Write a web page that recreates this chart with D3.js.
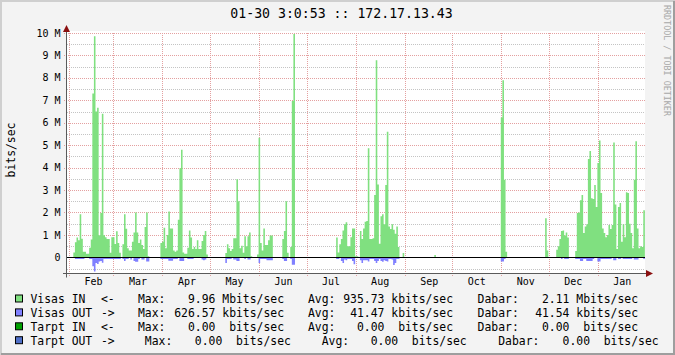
<!DOCTYPE html>
<html>
<head>
<meta charset="utf-8">
<script src="https://cdn.jsdelivr.net/npm/d3@7"></script>
<style>
  body { margin: 0; background: #f3f3f3; }
  svg { display: block; font-family: "DejaVu Sans Mono", monospace; }
  text { white-space: pre; }
</style>
</head>
<body>
<svg id="chart"></svg>
<script>

const title = "01-30 3:0:53 :: 172.17.13.43";
const unitLabel = "bits/sec";
const watermark = "RRDTOOL / TOBI OETIKER";

const startTime = new Date(2006, 0, 30, 17);
const endTime = new Date(2007, 0, 30, 19);

const yTicks = [0, 1, 2, 3, 4, 5, 6, 7, 8, 9, 10];

// one value per day, Mbit/s
const inMbits = [
    0, 0, 0, 0, 0.22, 0.67, 0.88, 0.76, 1.92, 0.83,
    0.25, 0.25, 0.16, 0.16, 0.43, 0.79, 7.3, 9.85, 6.5, 6.67,
    0.98, 1.98, 6.4, 0.98, 0.9, 0.82, 0.82, 0.2, 0.9, 0.9,
    0.6, 1.16, 0.64, 0.2, 0, 0.58, 1.92, 1.28, 0.4, 0.31,
    0.31, 0.7, 1.11, 2.0, 1.11, 0.64, 0.79, 0.55, 0.37, 1.35,
    2.0, 0.05, 0, 0, 0, 0, 0, 0, 0, 0.64,
    0.7, 1.32, 0.4, 1.0, 2.04, 1.29, 1.29, 0.31, 0.25, 0.31,
    1.68, 3.97, 4.8, 0.22, 0.16, 0.16, 0.43, 1.2, 0.88, 0.37,
    0.46, 0.37, 0.76, 0.37, 0.37, 0.73, 1.0, 1.17, 0.13, 0,
    0, 0, 0, 0, 0, 0, 0, 0, 0, 0,
    0.19, 0.58, 0.4, 0.28, 0.37, 0.85, 0.85, 3.48, 2.5, 0.4,
    0.52, 0.2, 0.94, 0.49, 0.94, 1.11, 0.05, 0, 0, 0,
    0.13, 5.33, 0.64, 0.31, 1.29, 0.55, 0.55, 0.76, 0.97, 0.97,
    0, 0, 0, 0, 0, 0, 0.82, 1.17, 2.5, 0.2,
    0, 0.46, 6.97, 9.96, 0, 0, 0, 0, 0, 0,
    0, 0, 0, 0, 0, 0, 0, 0, 0, 0,
    0, 0, 0, 0, 0, 0, 0, 0, 0, 0,
    0.88, 0.22, 0.58, 0.82, 1.2, 1.47, 1.56, 0.49, 0.49, 0.9,
    1.29, 1.29, 0.05, 0.05, 0, 1.17, 0.82, 1.29, 1.59, 1.62,
    4.86, 0.82, 0.82, 0.85, 2.78, 8.78, 3.25, 0.61, 1.83, 1.92,
    1.47, 3.22, 5.6, 1.38, 1.26, 1.47, 1.23, 1.05, 1.38, 0.46,
    0, 0, 0.19, 0, 0, 0, 0, 0, 0, 0,
    0, 0, 0, 0, 0, 0, 0, 0, 0, 0,
    0, 0, 0.1, 0, 0, 0, 0, 0, 0, 0,
    0, 0, 0, 0, 0, 0, 0, 0, 0, 0,
    0, 0, 0, 0, 0, 0, 0, 0, 0, 0,
    0, 0, 0, 0, 0, 0, 0, 0, 0, 0,
    0, 0, 0, 0, 6.23, 7.89, 3.46, 0.25, 0, 0,
    0, 0, 0, 0, 0, 0, 0, 0, 0, 0,
    0, 0, 0, 0, 0, 0, 0, 0, 0, 0,
    0, 0, 1.74, 0.31, 0, 0, 0, 0, 0, 0.34,
    0.49, 0.82, 1.17, 1.2, 0.97, 1.11, 0.88, 0, 0, 0,
    0, 0.28, 1.98, 2.0, 2.54, 2.78, 1.08, 1.38, 1.47, 4.38,
    4.74, 2.63, 2.6, 3.22, 2.24, 4.2, 5.21, 2.87, 1.29, 1.08,
    0.9, 1.0, 1.44, 1.26, 1.44, 5.12, 2.36, 0.37, 2.24, 2.42,
    0.7, 1.47, 0.9, 2.9, 2.87, 1.5, 1.08, 0.4, 3.46, 5.18,
    1.29, 0.4, 0.49, 0.46, 2.1
];

const outMbits = [
    0, 0, 0, 0, 0, 0.07, 0.07, 0.07, 0.07, 0.07,
    0.07, 0, 0, 0, 0.07, 0.07, 0.4, 0.63, 0.25, 0.3,
    0.19, 0.16, 0.24, 0.07, 0.07, 0.07, 0.07, 0.07, 0.07, 0.07,
    0.07, 0.07, 0.07, 0.07, 0, 0.07, 0.16, 0.07, 0.07, 0,
    0.1, 0, 0.16, 0.2, 0.2, 0.07, 0, 0.1, 0.1, 0,
    0.19, 0.19, 0, 0, 0, 0, 0, 0, 0, 0.07,
    0.07, 0.07, 0.07, 0.07, 0.15, 0.15, 0.15, 0.07, 0.07, 0.07,
    0, 0.16, 0.16, 0.16, 0, 0, 0.07, 0.07, 0.07, 0.07,
    0, 0, 0, 0, 0, 0.1, 0.13, 0.1, 0, 0,
    0, 0, 0, 0, 0, 0, 0, 0, 0, 0,
    0.25, 0.07, 0.07, 0.07, 0, 0.1, 0.1, 0.16, 0.16, 0,
    0, 0, 0.07, 0, 0.1, 0.1, 0, 0, 0, 0,
    0, 0.25, 0.07, 0.07, 0.07, 0.07, 0.13, 0.13, 0.13, 0.13,
    0, 0, 0, 0, 0, 0, 0.07, 0.16, 0.16, 0,
    0, 0.07, 0.33, 0.33, 0, 0, 0, 0, 0, 0,
    0, 0, 0, 0, 0, 0, 0, 0, 0, 0,
    0, 0, 0, 0, 0, 0, 0, 0, 0, 0,
    0.07, 0.07, 0, 0.16, 0.25, 0.1, 0.13, 0.07, 0.07, 0.07,
    0.16, 0.31, 0, 0, 0, 0.13, 0.25, 0.13, 0.13, 0.13,
    0.19, 0.07, 0.07, 0.07, 0.16, 0.25, 0.16, 0.07, 0.16, 0.2,
    0.13, 0.16, 0.19, 0.07, 0.07, 0.1, 0.34, 0.25, 0.07, 0.07,
    0, 0, 0, 0, 0, 0, 0, 0, 0, 0,
    0, 0, 0, 0, 0, 0, 0, 0, 0, 0,
    0, 0, 0, 0, 0, 0, 0, 0, 0, 0,
    0, 0, 0, 0, 0, 0, 0, 0, 0, 0,
    0, 0, 0, 0, 0, 0, 0, 0, 0, 0,
    0, 0, 0, 0, 0, 0, 0, 0, 0, 0,
    0, 0, 0, 0, 0.19, 0.19, 0.07, 0, 0, 0,
    0, 0, 0, 0, 0, 0, 0, 0, 0, 0,
    0, 0, 0, 0, 0, 0, 0, 0, 0, 0,
    0, 0, 0, 0, 0, 0, 0, 0, 0, 0,
    0, 0, 0.07, 0, 0.07, 0.07, 0.07, 0, 0, 0,
    0, 0.07, 0.07, 0.07, 0.16, 0.16, 0.07, 0.07, 0.16, 0.16,
    0.16, 0.16, 0.07, 0, 0, 0.19, 0.19, 0.07, 0.07, 0.07,
    0.07, 0.07, 0.07, 0.07, 0, 0.13, 0.13, 0, 0.07, 0.07,
    0, 0.07, 0.07, 0.07, 0.07, 0.07, 0.07, 0, 0.1, 0.1,
    0.1, 0, 0, 0, 0.07
];

const legendNames = ["Visas IN", "Visas OUT", "Tarpt IN", "Tarpt OUT"];
const legendArrows = ["<-", "->", "<-", "->"];
const legendMax = ["9.96 Mbits/sec", "626.57 kbits/sec", "0.00  bits/sec", "0.00  bits/sec"];
const legendAvg = ["935.73 kbits/sec", "41.47 kbits/sec", "0.00  bits/sec", "0.00  bits/sec"];
const legendCur = ["2.11 Mbits/sec", "41.54 kbits/sec", "0.00  bits/sec", "0.00  bits/sec"];

const inColor = "#80e080";
const outColor = "#8080ff";
const legendColors = [inColor, outColor, "#00a000", "#5070c8"];

const width = 675, height = 355;
const plot = { left: 67, right: 645, top: 33, bottom: 273.5 };

const svg = d3.select("#chart")
    .attr("width", width)
    .attr("height", height);

// Frame

svg.append("rect")
    .attr("width", width).attr("height", height)
    .attr("fill", "#f3f3f3");

svg.append("path")
    .attr("d", `M1,${height} V1 H${width}`)
    .attr("fill", "none").attr("stroke", "#cfcfcf").attr("stroke-width", 2);

svg.append("path")
    .attr("d", `M1,${height - 1} H${width - 1} V1`)
    .attr("fill", "none").attr("stroke", "#9e9e9e").attr("stroke-width", 2);

// Scales

const x = d3.scaleTime()
    .domain([startTime, endTime])
    .range([plot.left, plot.right]);

const y = d3.scaleLinear()
    .domain([-0.72, 10])
    .range([plot.bottom, plot.top]);

const crisp = v => Math.round(v) + 0.5;

svg.append("rect")
    .attr("x", plot.left)
    .attr("y", plot.top - 2)
    .attr("width", plot.right - plot.left)
    .attr("height", plot.bottom - plot.top + 2)
    .attr("fill", "#ffffff");

// Grid

const minorTicks = d3.range(-0.5, 10, 1);
svg.append("g")
    .selectAll("line")
    .data(minorTicks)
    .join("line")
    .attr("x1", plot.left).attr("x2", plot.right)
    .attr("y1", d => crisp(y(d))).attr("y2", d => crisp(y(d)))
    .attr("stroke", "#c4c4c4")
    .attr("stroke-dasharray", "1,1");

svg.append("g")
    .selectAll("line")
    .data(yTicks.filter(d => d > 0))
    .join("line")
    .attr("x1", plot.left - 3).attr("x2", plot.right)
    .attr("y1", d => crisp(y(d))).attr("y2", d => crisp(y(d)))
    .attr("stroke", "#e4a0a0")
    .attr("stroke-dasharray", "1,1");

const months = d3.timeMonth.range(d3.timeMonth.ceil(startTime), endTime);
svg.append("g")
    .selectAll("line")
    .data(months)
    .join("line")
    .attr("x1", d => crisp(x(d))).attr("x2", d => crisp(x(d)))
    .attr("y1", plot.top).attr("y2", plot.bottom + 3)
    .attr("stroke", "#e4a0a0")
    .attr("stroke-dasharray", "1,1");

// Series

const days = d3.range(inMbits.length + 1).map(i => d3.timeDay.offset(startTime, i));
const toSteps = vals => vals.map((v, i) => ({ t: days[i], v }))
    .concat([{ t: days[vals.length], v: vals[vals.length - 1] }]);

const inArea = d3.area()
    .curve(d3.curveStepAfter)
    .x(d => x(d.t))
    .y0(y(0))
    .y1(d => y(d.v));

const outArea = d3.area()
    .curve(d3.curveStepAfter)
    .x(d => x(d.t))
    .y0(y(0))
    .y1(d => y(-d.v));

svg.append("path")
    .datum(toSteps(inMbits))
    .attr("fill", inColor)
    .attr("d", inArea);

svg.append("path")
    .datum(toSteps(outMbits))
    .attr("fill", outColor)
    .attr("d", outArea);

svg.append("line")
    .attr("x1", plot.left).attr("x2", plot.right)
    .attr("y1", crisp(y(0))).attr("y2", crisp(y(0)))
    .attr("stroke", "#000");

// Axes

const axisColor = "#5a5a5a";
const arrowColor = "#8b1010";

svg.append("line")
    .attr("x1", 66.5).attr("x2", 66.5)
    .attr("y1", plot.top - 5).attr("y2", plot.bottom + 4)
    .attr("stroke", axisColor);

svg.append("line")
    .attr("x1", plot.left - 4).attr("x2", plot.right + 2)
    .attr("y1", plot.bottom).attr("y2", plot.bottom)
    .attr("stroke", axisColor);

svg.append("path")
    .attr("d", `M63,${plot.top - 1} L66.5,${plot.top - 8} L70,${plot.top - 1} Z`)
    .attr("fill", arrowColor);

svg.append("path")
    .attr("d", `M${plot.right + 1},${plot.bottom - 3.5} L${plot.right + 8},${plot.bottom} L${plot.right + 1},${plot.bottom + 3.5} Z`)
    .attr("fill", arrowColor);

svg.append("g")
    .selectAll("text")
    .data(yTicks)
    .join("text")
    .attr("x", 60.5)
    .attr("y", d => y(d) + 3.6)
    .attr("text-anchor", "end")
    .attr("font-size", 10)
    .text(d => d === 0 ? "0" : d + " M");

svg.append("g")
    .selectAll("text")
    .data(months)
    .join("text")
    .attr("x", d => x(d3.timeHour.offset(d, 372)))
    .attr("y", 285)
    .attr("text-anchor", "middle")
    .attr("font-size", 10)
    .text(d3.timeFormat("%b"));

// Labels

svg.append("text")
    .attr("x", 341.5).attr("y", 18.3)
    .attr("text-anchor", "middle")
    .attr("font-size", 13.2)
    .text(title);

svg.append("text")
    .attr("transform", "translate(15,150) rotate(-90)")
    .attr("text-anchor", "middle")
    .attr("font-size", 11.4)
    .text(unitLabel);

svg.append("text")
    .attr("transform", "translate(663.5,5) rotate(90)")
    .attr("font-size", 8.4)
    .attr("fill", "#a8a8a8")
    .text(watermark);

// Legend

const charW = 6.87;
const legend = svg.append("g").attr("font-size", 11.4);

legendNames.forEach((name, i) => {
    const base = 303 + i * 13.9;
    const shift = i === 3 ? charW : 0;
    const row = legend.append("g");

    row.append("rect")
        .attr("x", 15.5).attr("y", base - 8)
        .attr("width", 7).attr("height", 7)
        .attr("fill", legendColors[i])
        .attr("stroke", "#000");

    row.append("text").attr("x", 30.5).attr("y", base).text(name);
    row.append("text").attr("x", 101).attr("y", base).text(legendArrows[i]);
    row.append("text").attr("x", 138 + shift).attr("y", base).text("Max:");
    row.append("text").attr("x", 284 + shift).attr("y", base)
        .attr("text-anchor", "end").text(legendMax[i]);
    row.append("text").attr("x", 308 + shift * 2).attr("y", base).text("Avg:");
    row.append("text").attr("x", 453 + shift * 2).attr("y", base)
        .attr("text-anchor", "end").text(legendAvg[i]);
    row.append("text").attr("x", 477.6 + shift * 3).attr("y", base).text("Dabar:");
    row.append("text").attr("x", 638 + shift * 3).attr("y", base)
        .attr("text-anchor", "end").text(legendCur[i]);
});

</script>
</body>
</html>
